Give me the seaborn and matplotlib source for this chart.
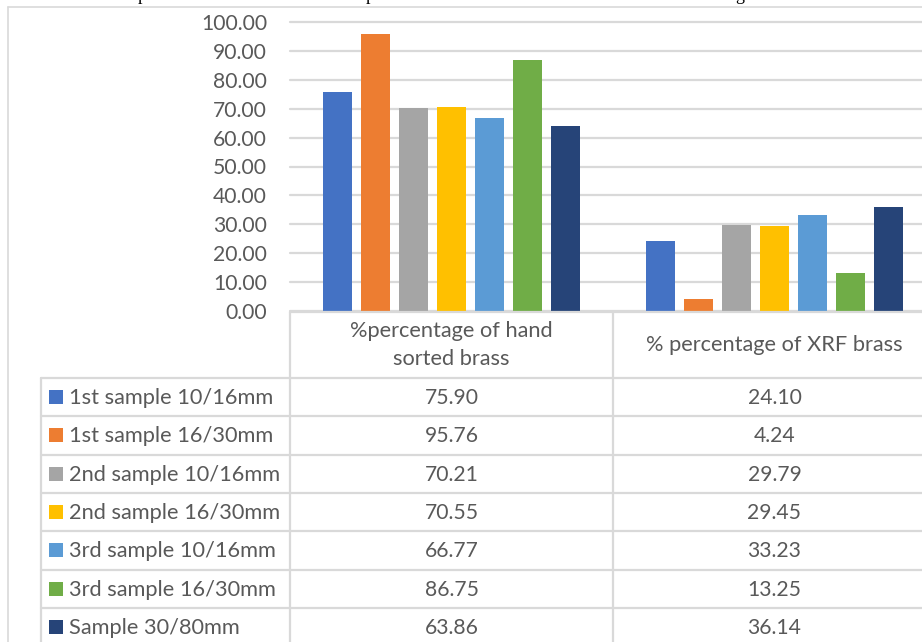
import matplotlib
matplotlib.use("Agg")
import matplotlib.pyplot as plt
from matplotlib.lines import Line2D
from matplotlib.patches import Rectangle
import pandas as pd
import seaborn as sns

# ---- data -------------------------------------------------------------
categories = ["%percentage of hand\nsorted brass", "% percentage of XRF brass"]
samples = [
    "1st sample 10/16mm",
    "1st sample 16/30mm",
    "2nd sample 10/16mm",
    "2nd sample 16/30mm",
    "3rd sample 10/16mm",
    "3rd sample 16/30mm",
    "Sample 30/80mm",
]
hand_sorted = [75.90, 95.76, 70.21, 70.55, 66.77, 86.75, 63.86]
xrf = [24.10, 4.24, 29.79, 29.45, 33.23, 13.25, 36.14]
colors = ["#4472C4", "#ED7D31", "#A5A5A5", "#FFC000", "#5B9BD5", "#70AD47", "#264478"]
y_ticks = [0, 10, 20, 30, 40, 50, 60, 70, 80, 90, 100]

df = pd.DataFrame({
    "category": [categories[0]] * len(samples) + [categories[1]] * len(samples),
    "sample": samples + samples,
    "value": hand_sorted + xrf,
})

# ---- figure -----------------------------------------------------------
W, H = 922, 642
sns.set_theme(style="white")
plt.rcParams["font.family"] = ["Lato", "DejaVu Sans"]
TXT = "#595959"
GRID = "#D9D9D9"
FS_NUM = 15.2
FS_LBL = 15.7

fig = plt.figure(figsize=(W / 100, H / 100), dpi=100)


def fx(px):
    return px / W


def fy(py):
    return 1 - py / H


# clipped tail of the caption line above the chart
for px, ch in [(142, "p"), (370, "p"), (740, "g")]:
    fig.text(fx(px), fy(0.5), ch, ha="center", va="baseline", fontsize=13,
             family=["Liberation Serif"], color="black")

# plot area: two category columns of 323 px starting at x=290
x0, col_w = 290, 323
y_top, y_zero = 22, 311
ax = fig.add_axes([fx(x0), fy(y_zero), fx(2 * col_w), (y_zero - y_top) / H])

sns.barplot(
    data=df, x="category", y="value", hue="sample",
    order=categories, hue_order=samples, palette=colors, saturation=1,
    width=0.824, gap=0.24, linewidth=0, legend=False, ax=ax,
)

ax.set_xlim(-0.5, 1.5)
ax.set_ylim(0, 100)
ax.set_yticks(y_ticks)
ax.set_yticklabels([f"{v:.2f}" for v in y_ticks], color=TXT, fontsize=FS_NUM)
ax.tick_params(axis="y", length=0, pad=16.5)
ax.set_xticks([])
ax.set_xlabel("")
ax.set_ylabel("")
for s in ax.spines.values():
    s.set_visible(False)
ax.set_axisbelow(True)
ax.yaxis.grid(True, color=GRID, linewidth=1.6, clip_on=False)
ax.xaxis.grid(False)

# ---- chart border -------------------------------------------------------
border_kw = dict(color=GRID, linewidth=1.2, transform=fig.transFigure)
fig.add_artist(Line2D([fx(8), fx(8)], [fy(7), fy(H + 5)], **border_kw))
fig.add_artist(Line2D([fx(8), fx(W + 5)], [fy(7), fy(7)], **border_kw))

# ---- data table ---------------------------------------------------------
line_kw = dict(color=GRID, linewidth=1.6, transform=fig.transFigure)
row_top = 378
row_h = 38.3
col_x = [x0, x0 + col_w, x0 + 2 * col_w]
table_left = 41
n_rows = len(samples)
bottom = row_top + row_h * n_rows

# header cells
fig.add_artist(Line2D([fx(x0), fx(col_x[2])], [fy(y_zero + 1), fy(y_zero + 1)], **line_kw))
for cx in col_x:
    fig.add_artist(Line2D([fx(cx), fx(cx)], [fy(y_zero + 1), fy(bottom)], **line_kw))
fig.add_artist(Line2D([fx(table_left), fx(table_left)], [fy(row_top), fy(bottom)], **line_kw))
for i in range(n_rows + 1):
    yy = row_top + i * row_h
    fig.add_artist(Line2D([fx(table_left), fx(col_x[2])], [fy(yy), fy(yy)], **line_kw))

hdr_y = (y_zero + row_top) / 2
for j, cat in enumerate(categories):
    fig.text(fx(x0 + col_w * (j + 0.5)), fy(hdr_y + 0.5), cat, ha="center", va="center",
             color=TXT, fontsize=FS_LBL, linespacing=1.45)

for i, (name, c, a, b) in enumerate(zip(samples, colors, hand_sorted, xrf)):
    yc = row_top + (i + 0.5) * row_h
    fig.add_artist(Rectangle((fx(49), fy(yc + 7)), fx(14), 14 / H, facecolor=c,
                             edgecolor="none", transform=fig.transFigure))
    fig.text(fx(69), fy(yc + 1), name, ha="left", va="center", color=TXT, fontsize=FS_LBL)
    fig.text(fx(x0 + col_w * 0.5), fy(yc + 1), f"{a:.2f}", ha="center", va="center",
             color=TXT, fontsize=FS_NUM)
    fig.text(fx(x0 + col_w * 1.5), fy(yc + 1), f"{b:.2f}", ha="center", va="center",
             color=TXT, fontsize=FS_NUM)

fig.savefig("out.png", dpi=100, facecolor="white")
